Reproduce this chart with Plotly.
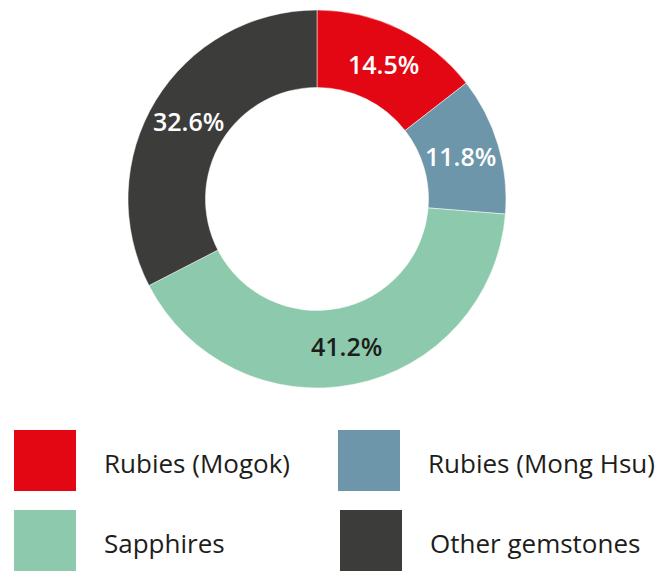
import math
import plotly.graph_objects as go

categories = ["Rubies (Mogok)", "Rubies (Mong Hsu)", "Sapphires", "Other gemstones"]
values = [14.5, 11.8, 41.2, 32.6]
value_labels = ["14.5%", "11.8%", "41.2%", "32.6%"]
colors = ["#E30613", "#6E96AA", "#8DCAAD", "#3C3C3B"]
text_colors = ["white", "white", "#1D1D1B", "white"]

W, H = 669, 572
OFF = 8  # page offset of the rendered figure
cx, cy, r = 317 - OFF, 199 - OFF, 189
HOLE = 0.59

fig = go.Figure(go.Pie(
    labels=categories, values=values, text=value_labels,
    textinfo="none",
    sort=False, direction="clockwise", rotation=0, hole=HOLE,
    marker=dict(colors=colors, line=dict(color="white", width=0.5)),
    showlegend=False, hoverinfo="label+text",
    domain=dict(x=[(cx - r) / W, (cx + r) / W], y=[(H - cy - r) / H, (H - cy + r) / H]),
))

annos = []
# value labels at the middle of each ring segment (computed from the data)
total = sum(values)
cum = 0.0
rm = r * (1 + HOLE) / 2
for v, lab, tc in zip(values, value_labels, text_colors):
    ang = 2 * math.pi * (cum + v / 2) / total
    cum += v
    px = cx + rm * math.sin(ang)
    py = cy - rm * math.cos(ang)
    annos.append(dict(xref="paper", yref="paper", x=px / W, y=1 - py / H,
                      text=lab, showarrow=False, xanchor="center", yanchor="middle",
                      font=dict(family="Open Sans", size=25, color=tc, weight=600)))

# custom legend (2x2 grid)
leg_pos = [(14, 430), (338, 430), (14, 510), (340, 510)]
sq_w, sq_h = 62, 61
shapes = []
for (x0, y0), cat, col in zip(leg_pos, categories, colors):
    x0 -= OFF
    y0 -= OFF
    shapes.append(dict(type="rect", xref="paper", yref="paper",
                       x0=x0 / W, x1=(x0 + sq_w) / W,
                       y0=1 - (y0 + sq_h) / H, y1=1 - y0 / H,
                       fillcolor=col, line=dict(width=0)))
    annos.append(dict(xref="paper", yref="paper", x=(x0 + 88) / W, y=1 - (y0 + 33) / H,
                      text=cat, showarrow=False, xanchor="left", yanchor="middle",
                      font=dict(family="Open Sans", size=26, color="#1D1D1B")))

fig.update_layout(width=W, height=H, margin=dict(l=0, r=0, t=0, b=0),
                  paper_bgcolor="white", plot_bgcolor="white",
                  shapes=shapes, annotations=annos)
fig.write_html("out.html")
